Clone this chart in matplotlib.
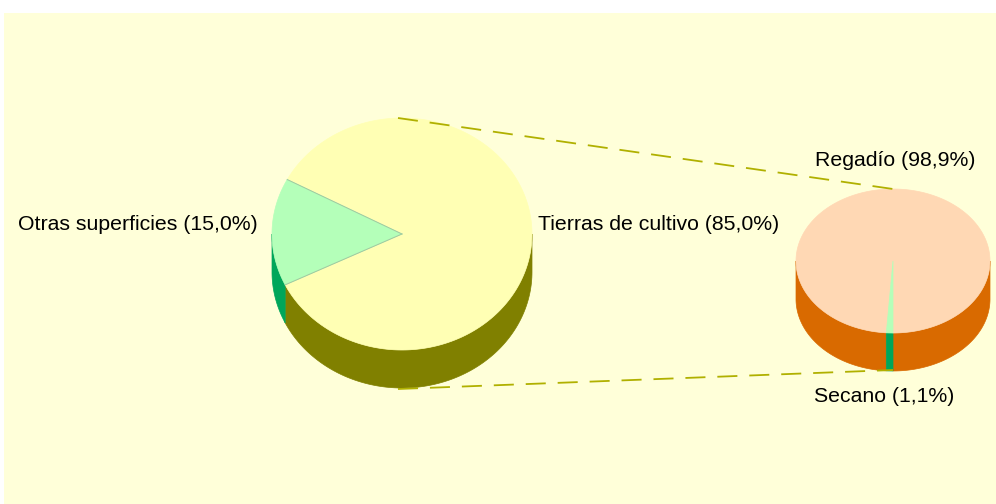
import numpy as np
import matplotlib.pyplot as plt
from matplotlib.patches import Polygon, Rectangle

plt.rcParams['font.family'] = ['Liberation Sans', 'DejaVu Sans']

# main pie
main_labels = ['Tierras de cultivo (85,0%)', 'Otras superficies (15,0%)']
main_values = [85.0, 15.0]
main_top = ['#FFFFB4', '#B4FFB9']
main_side = ['#808000', '#00A65A']

# detail pie (Tierras de cultivo)
sub_labels = ['Regadío (98,9%)', 'Secano (1,1%)']
sub_values = [98.9, 1.1]
sub_top = ['#FFD8B4', '#B4FFB9']
sub_side = ['#D96A00', '#00A65A']


def pie3d(ax, cx, cy, rx, ry, depth, values, tops, sides, start):
    total = sum(values)
    a0 = start
    spans = []
    for v in values:
        a1 = a0 + 360.0 * v / total
        spans.append((a0, a1))
        a0 = a1
    # side walls: visible part of the rim is 180..360 deg
    for (s, e), col in zip(spans, sides):
        for off in (0, 360, -360):
            lo = max(s + off, 180)
            hi = min(e + off, 360)
            if hi > lo:
                t = np.radians(np.linspace(lo, hi, 120))
                xs = cx + rx * np.cos(t)
                ys = cy - ry * np.sin(t)
                pts = np.column_stack([np.r_[xs, xs[::-1]],
                                       np.r_[ys, ys[::-1] + depth]])
                ax.add_patch(Polygon(pts, closed=True, fc=col, ec=col, lw=0.5))
    # top faces
    for (s, e), col in zip(spans, tops):
        t = np.radians(np.linspace(s, e, 300))
        xs = np.r_[cx, cx + rx * np.cos(t)]
        ys = np.r_[cy, cy - ry * np.sin(t)]
        ax.add_patch(Polygon(np.column_stack([xs, ys]), closed=True,
                             fc=col, ec=col, lw=0.5))
    return spans


fig = plt.figure(figsize=(9.96, 5.04), dpi=100)
ax = fig.add_axes([0, 0, 1, 1])
ax.set_xlim(0, 996)
ax.set_ylim(504, 0)
ax.axis('off')
ax.add_patch(Rectangle((4, 13), 992, 491, fc='#FFFFD9', ec='none'))

# left pie
lcx, lcy, lrx, lry, ld = 402, 234, 130, 116, 38
pie3d(ax, lcx, lcy, lrx, lry, ld, main_values, main_top, main_side, 206)
# thin seam lines on green wedge
for a in (152, 206):
    t = np.radians(a)
    ax.plot([lcx, lcx + lrx * np.cos(t)], [lcy, lcy - lry * np.sin(t)],
            color='#A0C8A0', lw=0.7)

# right pie
rcx, rcy, rrx, rry, rd = 893, 261, 97, 72, 38
pie3d(ax, rcx, rcy, rrx, rry, rd, sub_values, sub_top, sub_side,
      270 - 360 * sub_values[1] / 100 - 360 * sub_values[0] / 100)

# connector lines
dash = dict(color='#B0B000', lw=1.3, dashes=(11.1, 6.6))
ax.plot([lcx - 4, rcx], [lcy - lry, rcy - rry], **dash)
ax.plot([lcx - 4, rcx], [lcy + ld + lry + 1, rcy + rry + rd - 1], **dash)

fs = 15.3
ax.text(258, 225, main_labels[1], ha='right', va='center', fontsize=fs)
ax.text(538, 224, main_labels[0], ha='left', va='center', fontsize=fs)
ax.text(895, 160, sub_labels[0], ha='center', va='center', fontsize=fs)
ax.text(884, 397, sub_labels[1], ha='center', va='center', fontsize=fs)

fig.savefig('out.png', dpi=100)
